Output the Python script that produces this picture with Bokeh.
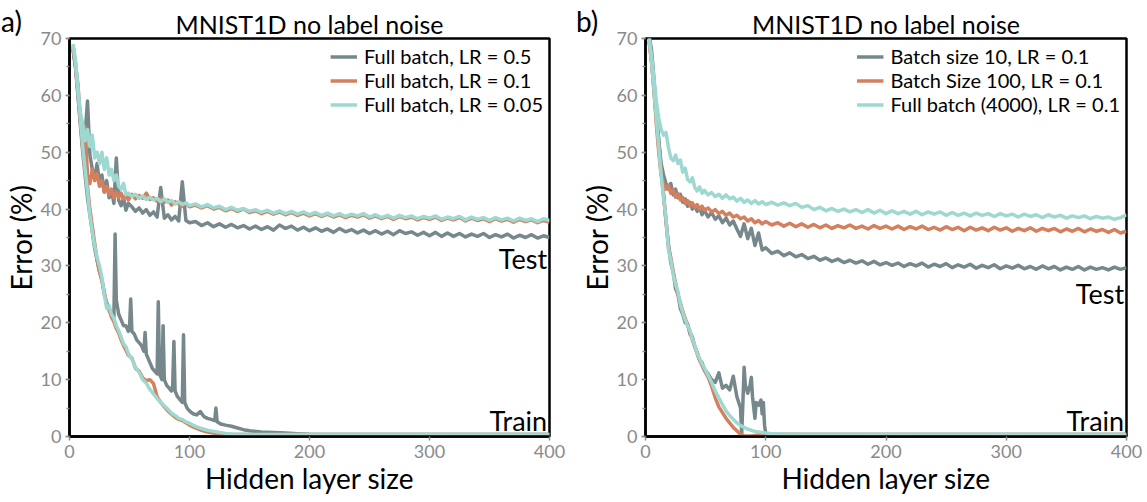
from bokeh.plotting import figure
from bokeh.layouts import row, column
from bokeh.models import Range1d, SingleIntervalTicker, Label, Legend, LegendItem, Div
from bokeh.embed import file_html
from bokeh.resources import INLINE

FONT = "Lato"
GRAY = "#76888b"
ORANGE = "#d4805e"
CYAN = "#9dd8d1"
FIG_H = 497

# ---------------- shared x grids ----------------
X_TEST = [3, 5, 7, 9, 11, 13, 15, 17, 19, 21, 23, 25, 27, 29, 31, 33, 35, 37, 39, 41, 43, 45, 47, 49,
          52, 55, 58, 61, 64, 67, 70, 73, 76, 79, 82, 85, 88, 91, 94, 97, 100,
          105, 110, 115, 120, 125, 130, 135, 140, 145, 150, 155, 160, 165, 170, 175, 180, 185, 190, 195, 200,
          205, 210, 215, 220, 225, 230, 235, 240, 245, 250, 255, 260, 265, 270, 275, 280, 285, 290, 295, 300,
          305, 310, 315, 320, 325, 330, 335, 340, 345, 350, 355, 360, 365, 370, 375, 380, 385, 390, 395, 400]
X_TRAIN = [3, 5, 7, 9, 11, 13, 15, 17, 19, 21, 23, 25, 27, 29, 31, 33, 35, 37, 39, 41, 43, 45, 47, 49,
           52, 55, 58, 61, 64, 67, 70, 73, 76, 79, 82, 85, 88, 91, 94, 97, 100,
           105, 110, 115, 120, 125, 130, 135, 140, 145, 150, 155, 160, 165, 170, 175, 180, 185, 190, 195, 200,
           250, 300, 350, 400]

# ---------------- panel a: MNIST1D, full batch, different LR ----------------
A_LABELS = ["Full batch, LR = 0.5", "Full batch, LR = 0.1", "Full batch, LR = 0.05"]

A_TEST_GRAY = [68.0, 65.0, 60.5, 55.5, 51.0, 53.0, 59.0, 49.5, 47.0, 45.5, 48.0, 44.5, 46.0, 43.0, 45.0, 42.0,
               43.2, 41.0, 49.0, 41.5, 40.6, 42.0, 39.8, 41.0,
               40.4, 39.6, 40.2, 39.3, 39.9, 38.9, 39.5, 38.6, 43.8, 38.4, 39.0, 38.1, 38.7, 37.9, 44.8, 38.0, 37.6,
               37.8, 37.1, 37.6, 36.9, 37.4, 36.8, 37.3, 36.7, 37.1, 36.5, 37.0, 36.4, 36.9, 36.3, 37.2, 36.6,
               37.0, 36.3, 36.8, 36.2,
               36.7, 36.1, 36.5, 35.9, 36.6, 36.0, 36.4, 35.8, 36.3, 35.7, 36.2, 35.6, 36.1, 35.5, 36.2, 35.7,
               36.0, 35.4, 35.9, 35.3, 35.9, 35.2, 35.8, 35.2, 35.7, 35.1, 35.6, 35.2, 35.7, 35.0, 35.5, 35.1,
               35.6, 34.9, 35.4, 35.0, 35.5, 34.9, 35.3, 35.0]
A_TEST_ORANGE = [68.5, 65.5, 62.0, 56.0, 52.0, 54.5, 46.0, 44.5, 47.0, 45.0, 46.2, 44.0, 45.0, 43.0, 44.0, 42.5,
                 43.5, 42.0, 43.0, 42.0, 42.8, 41.8, 42.5, 41.6,
                 42.6, 41.8, 42.4, 41.9, 42.8, 41.7, 42.0, 41.4, 41.9, 41.2, 41.6, 40.7, 41.3, 40.9, 40.5, 41.0, 40.4,
                 40.7, 40.2, 40.6, 40.0, 40.3, 39.7, 40.1, 39.6, 40.0, 39.4, 39.7, 39.2, 39.6, 39.1, 39.5, 39.0,
                 39.4, 38.9, 39.3, 38.8,
                 39.2, 38.7, 39.1, 38.6, 39.0, 38.5, 38.9, 38.6, 39.0, 38.4, 38.8, 38.3, 38.7, 38.2, 38.7, 38.3,
                 38.6, 38.1, 38.5, 38.2, 38.6, 38.0, 38.4, 38.1, 38.5, 37.9, 38.4, 38.0, 38.3, 37.8, 38.3, 37.9,
                 38.2, 37.7, 38.2, 37.8, 38.1, 37.6, 38.0, 37.7]
A_TEST_CYAN = [69.0, 66.0, 61.0, 57.0, 55.0, 52.0, 54.0, 51.0, 53.0, 49.0, 50.0, 48.0, 50.0, 47.0, 49.0, 46.0,
               47.0, 45.0, 46.0, 44.0, 43.5, 44.5, 42.5, 42.8,
               42.2, 42.6, 41.9, 42.3, 41.7, 42.1, 41.6, 41.9, 41.3, 41.8, 41.2, 41.5, 40.9, 41.3, 40.8, 41.1, 40.6,
               40.9, 40.4, 40.8, 40.2, 40.5, 39.9, 40.3, 39.8, 40.1, 39.6, 39.9, 39.4, 39.8, 39.3, 39.7, 39.2,
               39.6, 39.1, 39.5, 39.0,
               39.4, 38.9, 39.3, 38.8, 39.2, 38.7, 39.1, 38.8, 39.2, 38.6, 39.0, 38.5, 38.9, 38.4, 38.9, 38.5,
               38.8, 38.3, 38.7, 38.4, 38.8, 38.2, 38.6, 38.3, 38.7, 38.1, 38.6, 38.2, 38.5, 38.0, 38.5, 38.1,
               38.4, 37.9, 38.4, 38.0, 38.3, 37.8, 38.3, 38.0]

A_TRAIN_GRAY_X = [3, 5, 7, 9, 11, 13, 15, 17, 19, 21, 23, 25, 27, 29, 31, 33, 35, 37, 38, 39, 41, 43, 45, 47, 49,
                  50, 51, 52, 54, 56, 58, 60, 62, 63, 64, 65, 67, 69, 71, 73, 74, 75, 77, 78, 79, 81, 83, 85,
                  86, 87, 88, 90, 92, 94, 95, 96, 98, 100, 103, 106, 109, 112, 115, 118, 121, 122, 123, 126,
                  130, 135, 140, 145, 150, 160, 170, 180, 190, 200, 250, 300, 350, 400]
A_TRAIN_GRAY = [68.0, 65.0, 60.0, 55.0, 50.0, 46.0, 42.0, 39.0, 36.0, 33.0, 31.0, 29.0, 27.5, 25.0, 23.5, 22.5,
                21.5, 21.0, 35.6, 24.0, 21.5, 20.5, 19.5, 19.5, 18.5,
                19.0, 24.2, 18.5, 18.0, 17.0, 16.5, 16.0, 15.0, 18.3, 14.5, 14.0, 13.0, 12.0, 11.5, 11.0, 23.7,
                11.0, 10.0, 19.5, 10.0, 9.0, 8.5, 8.0,
                9.0, 16.7, 8.0, 7.0, 6.5, 6.0, 17.9, 6.0, 5.0, 4.5, 4.0, 3.8, 4.4, 3.5, 3.2, 3.0, 2.8, 5.0, 2.6, 2.2,
                2.0, 1.8, 1.5, 1.2, 1.0, 0.8, 0.7, 0.6, 0.5, 0.4, 0.35, 0.35, 0.35, 0.35]
A_TRAIN_ORANGE = [68.5, 65.5, 61.0, 56.0, 51.0, 47.0, 44.0, 40.0, 37.0, 34.0, 31.0, 29.0, 27.5, 25.5, 23.0, 22.2,
                  21.0, 20.2, 19.0, 18.2, 17.0, 16.0, 15.2, 14.3,
                  13.8, 12.0, 11.5, 10.3, 9.8, 10.0, 9.3, 7.0, 6.0, 5.2, 4.5, 3.9, 3.4, 3.0, 2.8, 2.4, 2.0,
                  1.5, 1.1, 0.8, 0.6, 0.45, 0.35, 0.35, 0.35, 0.35, 0.35, 0.35, 0.35, 0.35, 0.35, 0.35, 0.35,
                  0.35, 0.35, 0.35, 0.35,
                  0.35, 0.35, 0.35, 0.35]
A_TRAIN_CYAN = [69.0, 66.0, 61.0, 56.0, 51.0, 47.0, 43.0, 39.0, 36.0, 33.5, 31.5, 30.0, 28.0, 25.0, 22.5, 23.0,
                21.5, 20.8, 19.5, 18.6, 17.5, 16.3, 15.8, 14.6,
                13.6, 12.2, 11.3, 10.0, 9.4, 8.3, 7.5, 6.7, 6.0, 5.4, 4.8, 4.1, 3.7, 3.2, 3.0, 2.6, 2.3,
                1.8, 1.4, 1.1, 0.9, 0.7, 0.55, 0.45, 0.4, 0.38, 0.35, 0.35, 0.35, 0.35, 0.35, 0.35, 0.35,
                0.35, 0.35, 0.35, 0.35,
                0.35, 0.35, 0.35, 0.35]

# ---------------- panel b: MNIST1D, LR 0.1, different batch sizes ----------------
B_LABELS = ["Batch size 10, LR = 0.1", "Batch Size 100, LR = 0.1", "Full batch (4000), LR = 0.1"]

B_TEST_GRAY = [70.5, 68.0, 63.0, 57.0, 52.0, 48.0, 46.0, 44.5, 43.5, 44.5, 42.5, 43.5, 42.0, 42.6, 41.2, 41.8,
               40.5, 41.2, 40.0, 40.6, 39.6, 40.2, 39.0, 39.8,
               38.6, 39.4, 38.2, 38.8, 37.6, 38.4, 37.2, 37.9, 36.5, 35.2, 37.4, 34.8, 36.6, 33.6, 35.8, 32.8, 33.2,
               32.2, 32.6, 31.8, 32.3, 31.6, 32.0, 31.3, 31.7, 31.0, 31.4, 30.8, 31.2, 30.6, 31.0, 30.5, 30.9,
               30.3, 30.8, 30.2, 30.6,
               30.1, 30.5, 29.9, 30.4, 30.0, 30.5, 29.8, 30.3, 29.9, 30.4, 29.7, 30.2, 29.8, 30.3, 29.6, 30.1,
               29.7, 30.2, 29.5, 30.0, 29.6, 30.1, 29.5, 29.9, 29.4, 30.0, 29.5, 29.9, 29.3, 29.8, 29.4, 29.9,
               29.3, 29.8, 29.4, 29.7, 29.3, 29.8, 29.4, 29.7]
B_TEST_ORANGE = [69.5, 66.0, 61.0, 55.0, 50.0, 46.0, 44.5, 43.5, 44.2, 42.8, 43.4, 42.1, 42.7, 41.6, 42.0, 41.0,
                 41.5, 40.6, 41.1, 40.3, 40.8, 40.0, 40.5, 39.8,
                 40.2, 39.5, 39.9, 39.2, 39.6, 38.9, 39.3, 38.6, 38.9, 38.3, 38.6, 37.9, 38.3, 37.6, 38.0, 37.4, 37.8,
                 37.2, 37.6, 37.0, 37.5, 36.9, 37.4, 36.8, 37.3, 36.7, 37.2, 36.6, 37.1, 36.7, 37.2, 36.6, 37.0,
                 36.5, 37.1, 36.6, 37.0,
                 36.5, 37.0, 36.4, 36.9, 36.5, 37.0, 36.4, 36.8, 36.3, 36.9, 36.4, 36.8, 36.2, 36.8, 36.3, 36.7,
                 36.2, 36.8, 36.3, 36.7, 36.1, 36.6, 36.2, 36.7, 36.1, 36.6, 36.2, 36.6, 36.0, 36.5, 36.1, 36.6,
                 36.0, 36.5, 36.1, 36.4, 35.9, 36.4, 35.8, 36.1]
B_TEST_CYAN = [70.0, 67.0, 63.0, 59.0, 56.0, 54.0, 53.0, 53.5, 51.0, 49.0, 48.5, 49.5, 48.0, 48.6, 46.5, 47.2,
               45.2, 44.8, 45.5, 43.8, 43.2, 43.9, 42.8, 43.3,
               42.5, 42.9, 42.2, 42.6, 41.9, 42.5, 41.8, 42.1, 41.4, 41.9, 41.2, 41.6, 41.0, 41.5, 40.9, 41.3, 40.8,
               41.2, 40.7, 41.1, 40.6, 41.0, 40.3, 40.6, 39.9, 40.3, 39.7, 40.1, 39.6, 40.0, 39.5, 39.9, 39.4,
               39.9, 39.3, 39.8, 39.2,
               39.7, 39.2, 39.6, 39.1, 39.6, 39.0, 39.5, 39.1, 39.5, 38.9, 39.4, 38.9, 39.3, 38.8, 39.3, 38.9,
               39.2, 38.7, 39.2, 38.8, 39.1, 38.6, 39.1, 38.7, 39.0, 38.5, 39.0, 38.6, 38.9, 38.4, 38.8, 38.5,
               38.8, 38.3, 38.7, 38.4, 38.6, 38.2, 38.5, 39.0]

B_TRAIN_GRAY_X = [3, 5, 7, 9, 11, 13, 15, 17, 19, 21, 23, 25, 27, 29, 31, 33, 35, 37, 39, 41, 43, 45, 47, 49,
                  52, 55, 58, 61, 64, 67, 70, 73, 76, 79, 80, 81, 82, 83, 85, 87, 88, 89, 91, 92, 94, 96, 97,
                  98, 99, 100, 110, 150, 200, 250, 300, 350, 400]
B_TRAIN_GRAY = [70.5, 67.0, 62.0, 57.0, 52.0, 47.0, 42.5, 38.0, 34.0, 30.5, 29.0, 26.0, 25.0, 22.5, 21.5, 20.0,
                19.8, 18.0, 17.5, 15.8, 14.8, 13.5, 13.0, 11.8,
                11.0, 10.0, 9.5, 11.2, 8.5, 9.0, 8.2, 10.6, 7.0, 5.0, 0.5, 6.0, 12.2, 9.0, 7.6, 9.0, 10.4, 7.0,
                3.2, 6.0, 5.5, 6.4, 4.0, 6.0, 2.0, 0.35, 0.35, 0.35, 0.35, 0.35, 0.35, 0.35, 0.35]
B_TRAIN_ORANGE = [69.5, 66.0, 61.0, 56.0, 51.0, 46.5, 42.5, 38.0, 33.5, 31.5, 29.0, 27.0, 25.0, 23.5, 22.0, 20.8,
                  19.6, 18.4, 17.0, 15.8, 14.5, 13.4, 12.5, 11.6,
                  10.5, 8.8, 6.8, 5.2, 4.2, 3.2, 2.4, 1.6, 1.0, 0.4, 0.1, 0.1, 0.1, 0.2, 0.3, 0.35, 0.35,
                  0.35, 0.35, 0.35, 0.35, 0.35, 0.35, 0.35, 0.35, 0.35, 0.35, 0.35, 0.35, 0.35, 0.35, 0.35, 0.35,
                  0.35, 0.35, 0.35, 0.35,
                  0.35, 0.35, 0.35, 0.35]
B_TRAIN_CYAN = [70.0, 66.0, 61.0, 56.0, 51.0, 46.0, 42.0, 38.5, 33.0, 31.0, 28.5, 26.8, 25.5, 23.2, 21.8, 20.5,
                19.5, 18.6, 17.2, 16.0, 14.6, 13.7, 12.8, 12.0,
                10.8, 9.5, 8.0, 6.8, 5.6, 4.5, 3.7, 3.0, 2.4, 1.9, 1.6, 1.3, 1.1, 0.9, 0.8, 0.7, 0.6,
                0.5, 0.45, 0.4, 0.38, 0.35, 0.35, 0.35, 0.35, 0.35, 0.35, 0.35, 0.35, 0.35, 0.35, 0.35, 0.35,
                0.35, 0.35, 0.35, 0.35,
                0.35, 0.35, 0.35, 0.35]

TITLE = "MNIST1D no label noise"
X_TITLE = "Hidden layer size"
Y_TITLE = "Error (%)"


def make_panel(labels, series, test_label_y, width, border_left, border_right):
    p = figure(width=width, height=FIG_H, output_backend="svg", toolbar_location=None,
               x_range=Range1d(0, 400), y_range=Range1d(0, 70),
               min_border_left=border_left, min_border_right=border_right,
               min_border_top=38, min_border_bottom=40)
    p.background_fill_color = "white"
    p.border_fill_color = "white"
    p.outline_line_color = "black"
    p.outline_line_width = 2.5
    p.grid.visible = False

    p.title.text = TITLE
    p.title.align = "center"
    p.title.text_font = FONT
    p.title.text_font_size = "25px"
    p.title.text_font_style = "normal"
    p.title.text_color = "black"
    p.title.standoff = 0
    p.title.offset = 0

    p.xaxis.ticker = SingleIntervalTicker(interval=100, num_minor_ticks=0)
    p.yaxis.ticker = SingleIntervalTicker(interval=10, num_minor_ticks=2)
    for ax in (p.xaxis[0], p.yaxis[0]):
        ax.axis_line_color = "black"
        ax.axis_line_width = 2.5
        ax.major_tick_line_color = "#8a8a8a"
        ax.minor_tick_line_color = "#8a8a8a"
        ax.major_tick_line_width = 1.5
        ax.minor_tick_line_width = 1.5
        ax.major_tick_in = 0
        ax.major_tick_out = 4
        ax.minor_tick_in = 0
        ax.minor_tick_out = 3
        ax.major_label_text_color = "#8a8a8a"
        ax.major_label_text_font = FONT
        ax.major_label_text_font_size = "18px"
        ax.major_label_standoff = 4
        ax.axis_label_text_font = FONT
        ax.axis_label_text_font_size = "28px"
        ax.axis_label_text_font_style = "normal"
        ax.axis_label_text_color = "black"
        ax.axis_label_standoff = 0
    p.xaxis.axis_label = X_TITLE
    p.yaxis.axis_label = Y_TITLE

    items = []
    for (x_te, y_te, x_tr, y_tr, color), lab in zip(series, labels):
        r = p.line(x_te, y_te, line_color=color, line_width=3.5, line_join="round")
        p.line(x_tr, y_tr, line_color=color, line_width=3.5, line_join="round")
        items.append(LegendItem(label=lab, renderers=[r]))

    legend = Legend(items=items, location="top_right")
    legend.label_text_font = FONT
    legend.label_text_font_size = "20px"
    legend.label_text_color = "black"
    legend.glyph_width = 27
    legend.glyph_height = 23
    legend.label_height = 23
    legend.label_standoff = 7
    legend.spacing = 0
    legend.padding = 2
    legend.margin = 6
    legend.border_line_color = None
    legend.background_fill_alpha = 0
    p.add_layout(legend)

    p.add_layout(Label(x=398, y=test_label_y, text="Test", text_align="right", text_baseline="alphabetic",
                       text_font=FONT, text_font_size="27px", text_color="black"))
    p.add_layout(Label(x=398, y=2.8, text="Train", text_align="right", text_baseline="alphabetic",
                       text_font=FONT, text_font_size="27px", text_color="black"))
    return p


def tag_div(text, left):
    return Div(text=text, width=40, height=36, margin=(-FIG_H + 5, 0, FIG_H - 41, left),
               styles={"font-family": FONT, "font-size": "28px", "color": "black", "line-height": "1.15"})


pa = make_panel(A_LABELS,
                [(X_TEST, A_TEST_GRAY, A_TRAIN_GRAY_X, A_TRAIN_GRAY, GRAY),
                 (X_TEST, A_TEST_ORANGE, X_TRAIN, A_TRAIN_ORANGE, ORANGE),
                 (X_TEST, A_TEST_CYAN, X_TRAIN, A_TRAIN_CYAN, CYAN)],
                31.3, 575, 68, 26)
pb = make_panel(B_LABELS,
                [(X_TEST, B_TEST_GRAY, B_TRAIN_GRAY_X, B_TRAIN_GRAY, GRAY),
                 (X_TEST, B_TEST_ORANGE, X_TRAIN, B_TRAIN_ORANGE, ORANGE),
                 (X_TEST, B_TEST_CYAN, X_TRAIN, B_TRAIN_CYAN, CYAN)],
                25.1, 570, 70, 19)

layout = row(column(pa, tag_div("a)", 1)), column(pb, tag_div("b)", 1)))
open("out.html", "w").write(file_html(layout, INLINE))
